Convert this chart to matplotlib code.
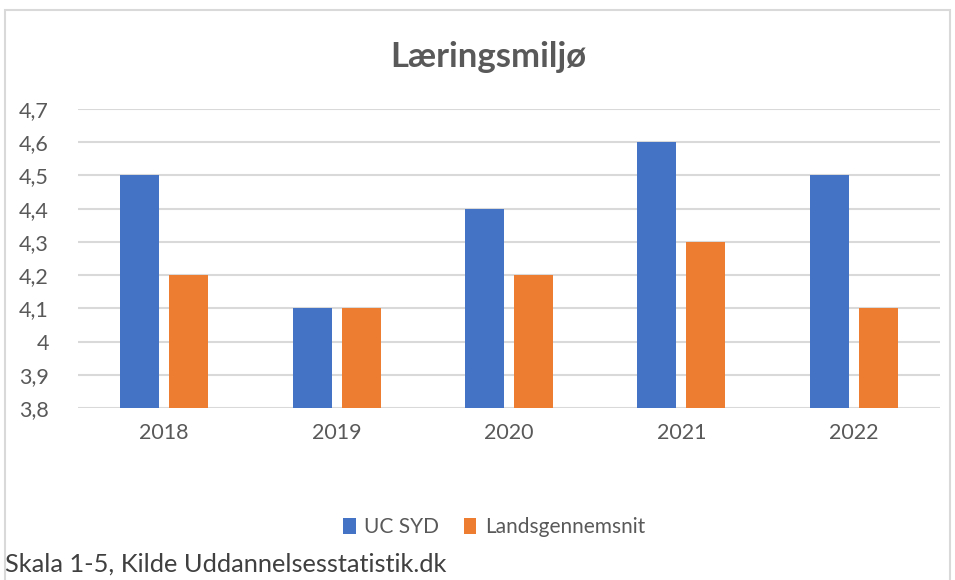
import matplotlib.pyplot as plt
import numpy as np
from matplotlib.patches import Rectangle

years = ["2018", "2019", "2020", "2021", "2022"]
uc_syd = [4.5, 4.1, 4.4, 4.6, 4.5]
lands = [4.2, 4.1, 4.2, 4.3, 4.1]
yticks = [3.8, 3.9, 4.0, 4.1, 4.2, 4.3, 4.4, 4.5, 4.6, 4.7]
ytick_labels = ["3,8", "3,9", "4", "4,1", "4,2", "4,3", "4,4", "4,5", "4,6", "4,7"]

plt.rcParams['font.family'] = ['Lato', 'DejaVu Sans']
gray = '#595959'
grid = '#d9d9d9'

fig = plt.figure(figsize=(9.55, 5.8), dpi=100)
ax = fig.add_axes([78/955, 1-408/580, (940-78)/955, (408-109)/580])

x = np.arange(len(years))
w = 0.226
off = 0.142
ax.bar(x - off, uc_syd, w, bottom=0, color='#4472C4', label='UC SYD', zorder=3)
ax.bar(x + off, lands, w, bottom=0, color='#ED7D31', label='Landsgennemsnit', zorder=3)

ax.set_xlim(-0.5, len(years) - 0.5)
ax.set_ylim(3.8, 4.7)
ax.set_yticks(yticks)
ax.set_yticklabels(ytick_labels)
ax.set_xticks(x)
ax.set_xticklabels(years)
ax.tick_params(axis='both', length=0, labelsize=15.5, colors=gray)
ax.tick_params(axis='y', pad=21)
ax.tick_params(axis='x', pad=11)
for s in ax.spines.values():
    s.set_visible(False)
ax.yaxis.grid(True, color=grid, lw=1.5, zorder=0)
ax.set_axisbelow(True)

fig.text(488/955, 1-57/580, "Læringsmiljø", ha='center', va='center', fontsize=25,
         fontweight='bold', color=gray)

leg = fig.legend(loc='center', bbox_to_anchor=(494/955, 1-527/580), ncol=2, frameon=False,
                 fontsize=15, handlelength=0.6, handleheight=0.8, handletextpad=0.4,
                 columnspacing=1.2)
for t in leg.get_texts():
    t.set_color(gray)

fig.text(5/955, 1-564/580, "Skala 1-5, Kilde Uddannelsesstatistik.dk", ha='left', va='center',
         fontsize=18.3, color='#404040')

fig.patches.append(Rectangle((5/955, -0.05), (950-5)/955, 1-10/580+0.05, transform=fig.transFigure,
                             fill=False, edgecolor=grid, lw=1.5))

fig.savefig('out.png', dpi=100)
